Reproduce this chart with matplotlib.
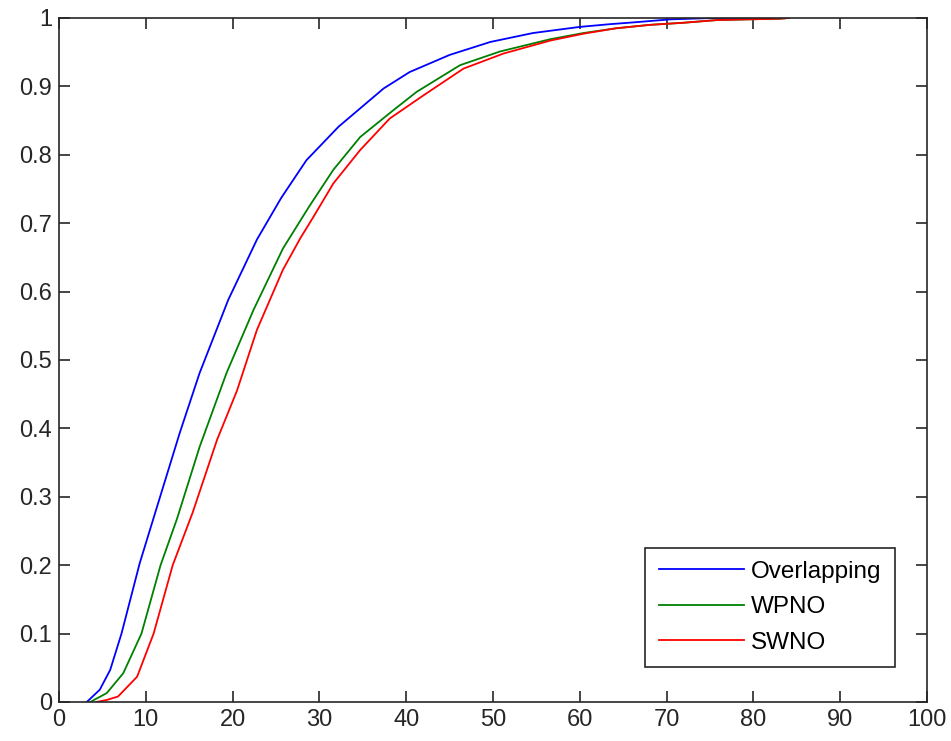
import numpy as np
import matplotlib
matplotlib.use("Agg")
import matplotlib.pyplot as plt

# values (x, cumulative fraction)
overlap_x = [3.2, 4.7, 5.9, 7.2, 9.3, 10.8, 13.9, 16.2, 19.5, 22.8, 25.6, 28.5,
             32.2, 37.4, 40.4, 45.0, 49.7, 54.6, 60.0, 63.5, 66.6, 70.4, 75.3, 84.1]
overlap_y = [0.0, 0.018, 0.047, 0.10, 0.203, 0.265, 0.393, 0.481, 0.588, 0.676, 0.737, 0.792,
             0.841, 0.897, 0.921, 0.946, 0.965, 0.978, 0.987, 0.991, 0.994, 0.998, 1.0, 1.0]

wpno_x = [3.6, 5.5, 7.4, 9.5, 11.7, 13.6, 16.2, 19.3, 22.4, 25.8, 28.8, 31.6, 34.7,
          38.5, 41.2, 46.2, 50.8, 56.6, 60.4, 64.2, 68.1, 71.9, 75.8, 83.0, 84.1]
wpno_y = [0.0, 0.013, 0.042, 0.10, 0.20, 0.268, 0.373, 0.481, 0.573, 0.663, 0.724, 0.778, 0.826,
          0.865, 0.892, 0.931, 0.951, 0.969, 0.978, 0.985, 0.990, 0.993, 0.997, 0.999, 1.0]

swno_x = [4.3, 5.5, 6.8, 9.0, 10.9, 13.1, 15.4, 18.2, 20.5, 22.8, 25.8, 27.8, 29.3, 31.6, 34.7,
          38.1, 42.0, 46.6, 51.2, 56.6, 60.4, 64.2, 68.1, 71.9, 75.8, 83.0, 84.1]
swno_y = [0.0, 0.003, 0.008, 0.037, 0.10, 0.20, 0.277, 0.383, 0.455, 0.544, 0.632, 0.678, 0.709, 0.758, 0.807,
          0.853, 0.887, 0.926, 0.948, 0.967, 0.977, 0.985, 0.990, 0.993, 0.997, 0.999, 1.0]

x_ticks = list(range(0, 101, 10))
y_ticks = [i / 10 for i in range(11)]
y_labels = ["0", "0.1", "0.2", "0.3", "0.4", "0.5", "0.6", "0.7", "0.8", "0.9", "1"]

plt.rcParams['font.family'] = ['Liberation Sans', 'DejaVu Sans']

fig = plt.figure(figsize=(9.51, 7.41), dpi=100)
ax = fig.add_axes([59 / 951, 39 / 741, 868 / 951, 684 / 741])

ax.plot(overlap_x, overlap_y, color='#0000ff', lw=1.3, label='Overlapping')
ax.plot(wpno_x, wpno_y, color='#008000', lw=1.3, label='WPNO')
ax.plot(swno_x, swno_y, color='#ff0000', lw=1.3, label='SWNO')

ax.set_xlim(0, 100)
ax.set_ylim(0, 1)
ax.set_xticks(x_ticks)
ax.set_yticks(y_ticks)
ax.set_yticklabels(y_labels)
ax.tick_params(direction='in', length=8, width=1.2, top=True, right=True,
               labelsize=17, colors='#262626', pad=5)
for s in ax.spines.values():
    s.set_linewidth(1.2)
    s.set_color('#262626')

leg = ax.legend(loc='lower right', bbox_to_anchor=(0.963, 0.051), borderaxespad=0,
                fontsize=17.5, fancybox=False, framealpha=1, edgecolor='#262626',
                handlelength=3.5, labelspacing=0.55, borderpad=0.55, handletextpad=0.3)
leg.get_frame().set_linewidth(1.2)

fig.savefig('out.png', dpi=100)
